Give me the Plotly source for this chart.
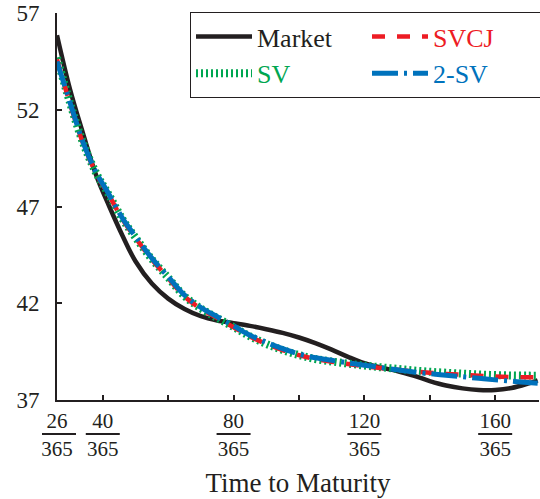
import plotly.graph_objects as go

days = [26, 30, 34, 38, 42, 46, 50, 55, 60, 65, 70, 75, 80, 85, 90, 95, 100,
        105, 110, 115, 120, 125, 130, 135, 140, 145, 150, 155, 160, 165, 170, 173]

market = [55.85, 53.04, 50.75, 48.6, 47.0, 45.5, 44.17, 43.02, 42.24, 41.7, 41.33,
          41.11, 40.97, 40.83, 40.66, 40.47, 40.23, 39.94, 39.6, 39.23, 38.9,
          38.68, 38.5, 38.26, 37.98, 37.75, 37.6, 37.52, 37.52, 37.62, 37.85, 38.02]

two_sv = [54.5, 52.36, 50.3, 48.75, 47.6, 46.4, 45.45, 44.33, 43.37, 42.42, 41.78,
          41.3, 40.83, 40.35, 39.98, 39.65, 39.38, 39.18, 39.05, 38.92, 38.8,
          38.68, 38.56, 38.45, 38.36, 38.28, 38.2, 38.12, 38.04, 37.97, 37.9, 37.86]

svcj = [54.6, 52.3, 50.25, 48.7, 47.55, 46.34, 45.38, 44.26, 43.3, 42.35, 41.71,
        41.23, 40.76, 40.28, 39.9, 39.58, 39.32, 39.12, 38.98, 38.86, 38.75,
        38.65, 38.56, 38.48, 38.41, 38.35, 38.3, 38.25, 38.21, 38.18, 38.17, 38.17]

sv = [54.7, 52.35, 50.28, 48.72, 47.57, 46.36, 45.4, 44.28, 43.32, 42.37, 41.73,
      41.24, 40.77, 40.29, 39.9, 39.58, 39.32, 39.12, 38.99, 38.88, 38.78,
      38.69, 38.61, 38.53, 38.46, 38.41, 38.36, 38.32, 38.29, 38.27, 38.26, 38.26]

x_range = [26, 173.4]
y_range = [37, 57]
y_ticks = [37, 42, 47, 52, 57]
x_tick_vals = [26, 40, 60, 80, 100, 120, 140, 160]
x_label_vals = [26, 40, 80, 120, 160]

INK = "#231F20"
RED = "#ED1C24"
GREEN = "#00A651"
BLUE = "#0072BC"
FONT = "Liberation Serif"

W, H = 540, 499
M = dict(l=57, r=1, t=13, b=99)
plot_w = W - M["l"] - M["r"]
plot_h = H - M["t"] - M["b"]

fig = go.Figure()
fig.add_trace(go.Scatter(x=days, y=market, mode="lines", name="Market",
                         line=dict(color=INK, width=4.5, shape="spline"),
                         legendrank=1))
fig.add_trace(go.Scatter(x=days, y=sv, mode="lines",
                         name=f'<span style="color:{GREEN}">SV</span>',
                         line=dict(color=GREEN, width=8, dash="2px,3px", shape="spline"),
                         legendrank=3))
fig.add_trace(go.Scatter(x=days, y=svcj, mode="lines",
                         name=f'<span style="color:{RED}">SVCJ</span>',
                         line=dict(color=RED, width=4.5, dash="13px,12px", shape="spline"),
                         legendrank=2))
fig.add_trace(go.Scatter(x=days, y=two_sv, mode="lines",
                         name=f'<span style="color:{BLUE}">2-SV</span>',
                         line=dict(color=BLUE, width=5, dash="26px,6px,3px,6px", shape="spline"),
                         legendrank=4))

ticktext = [f"{v}<br>365" if v in x_label_vals else "" for v in x_tick_vals]

# fraction bars under the numerators
shapes = []
half = 17 / plot_w
bar_y = -34 / plot_h
for v in x_label_vals:
    px = (v - x_range[0]) / (x_range[1] - x_range[0])
    if v == x_range[0]:
        px += 2 / plot_w
    shapes.append(dict(type="line", xref="paper", yref="paper",
                       x0=px - half, x1=px + half, y0=bar_y, y1=bar_y,
                       line=dict(color=INK, width=2)))

fig.update_layout(
    width=W, height=H,
    margin=dict(**M, autoexpand=False),
    paper_bgcolor="white", plot_bgcolor="white",
    font=dict(family=FONT, color=INK),
    shapes=shapes,
    showlegend=True,
    legend=dict(orientation="h", x=(190 - M["l"]) / plot_w,
                y=(H - M["b"] - 12) / plot_h, xanchor="left", yanchor="top",
                bgcolor="white", bordercolor=INK, borderwidth=1,
                font=dict(family=FONT, size=26, color=INK),
                entrywidth=105, entrywidthmode="pixels", itemwidth=56,
                traceorder="normal"),
    xaxis=dict(range=x_range, showgrid=False, zeroline=False,
               showline=True, linecolor=INK, linewidth=2,
               ticks="inside", ticklen=5, tickwidth=1.5, tickcolor=INK,
               tickvals=x_tick_vals, ticktext=ticktext,
               tickfont=dict(family=FONT, size=21, color=INK),
               ticklabelstandoff=1, ticklabeloverflow="allow",
               title=dict(text="Time to Maturity", font=dict(family=FONT, size=27, color=INK),
                          standoff=14)),
    yaxis=dict(range=y_range, showgrid=False, zeroline=False,
               showline=True, linecolor=INK, linewidth=2,
               ticks="inside", ticklen=5, tickwidth=1.5, tickcolor=INK,
               tickvals=y_ticks,
               tickfont=dict(family=FONT, size=23, color=INK),
               ticklabelstandoff=11, ticklabeloverflow="allow"),
)

fig.write_html("out.html")
